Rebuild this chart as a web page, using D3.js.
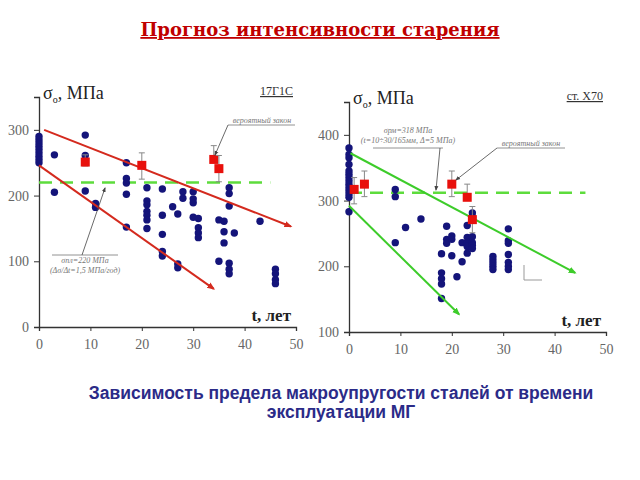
<!DOCTYPE html>
<html>
<head>
<meta charset="utf-8">
<script src="https://cdn.jsdelivr.net/npm/d3@7"></script>
<style>
  body { margin: 0; background: #fff; }
  svg { display: block; }
</style>
</head>
<body>
<div id="chart"></div>
<script>
// ---- data ----
const xTicks = [0, 10, 20, 30, 40, 50];

// 17Г1С (left)
const leftYTicks = [0, 100, 200, 300];
const leftPoints = [
  [0, 250], [0, 255], [0, 260], [0, 265], [0, 270], [0, 275], [0, 280], [0, 285], [0, 290],
  [3, 262], [3, 205],
  [9, 292], [9, 261], [9, 207],
  [11, 188], [11, 182],
  [17, 250], [17, 226], [17, 219], [17, 202], [17, 152],
  [21, 212], [21, 192], [21, 186], [21, 176], [21, 170], [21, 163], [21, 150],
  [24, 210], [24, 170], [24, 141], [24, 115], [24, 108],
  [26, 183],
  [27, 172], [27, 96], [27, 90],
  [28, 206], [28, 196],
  [30, 206], [30, 195], [30, 189], [30, 167],
  [31, 165], [31, 151], [31, 143], [31, 136],
  [35, 163], [35, 100],
  [36, 161], [36, 145], [36, 128],
  [37, 212], [37, 203], [37, 184], [37, 97], [37, 88], [37, 81],
  [38, 143],
  [43, 161],
  [46, 88], [46, 81], [46, 72], [46, 66]
];
// red squares: [t, value, low, high]
const leftMeans = [[9, 251, 245, 262], [20, 246, 225, 265], [34, 255, 255, 276], [35, 241, 221, 261]];
const leftTrends = [[[1, 300], [49, 153]], [[0, 246], [34, 58]]];
const leftLimit = 220;

// ст. Х70 (right)
const rightYTicks = [100, 200, 300, 400];
const rightPoints = [
  [0, 380], [0, 370], [0, 365], [0, 355], [0, 345], [0, 340], [0, 335], [0, 330], [0, 325],
  [0, 320], [0, 315], [0, 310], [0, 305], [0, 283],
  [9, 317], [9, 306], [9, 236],
  [11, 259],
  [14, 272],
  [18, 219], [18, 190], [18, 181], [18, 173], [18, 151],
  [19, 261], [19, 241], [19, 235],
  [20, 246], [20, 241], [20, 216],
  [21, 184],
  [22, 236], [22, 207],
  [23, 262], [23, 244], [23, 236], [23, 230], [23, 220],
  [24, 281], [24, 275], [24, 245], [24, 236], [24, 232], [24, 227],
  [28, 215], [28, 210], [28, 205], [28, 200], [28, 195],
  [31, 257], [31, 239], [31, 235], [31, 218], [31, 206], [31, 200], [31, 195]
];
const rightMeans = [[1, 317, 295, 335], [3, 325, 306, 345], [20, 325, 306, 345], [23, 305, 305, 325], [24, 271, 251, 291]];
const rightTrends = [[[0.3, 372], [44, 190]], [[0, 292], [21.4, 127]]];
const rightLimit = 312;

const SERIF = "'Liberation Serif', 'Times New Roman', 'DejaVu Serif', serif";
const SANS = "'Liberation Sans', Arial, sans-serif";

const W = 640, H = 480;
const svg = d3.select("#chart").append("svg")
    .attr("width", W)
    .attr("height", H);

const defs = svg.append("defs");
function arrowMarker(id, color, size) {
    defs.append("marker")
        .attr("id", id)
        .attr("viewBox", "0 0 10 10")
        .attr("refX", 8).attr("refY", 5)
        .attr("markerUnits", "userSpaceOnUse")
        .attr("markerWidth", size).attr("markerHeight", size)
        .attr("orient", "auto")
        .append("path")
        .attr("d", "M0,1 L10,5 L0,9 z")
        .attr("fill", color);
}
arrowMarker("arr-red", "#d42a1e", 8);
arrowMarker("arr-green", "#3dcc2a", 8);
arrowMarker("arr-gray", "#444", 5);

// title
svg.append("text")
    .attr("x", 320).attr("y", 36)
    .attr("text-anchor", "middle")
    .attr("font-family", "'DejaVu Serif', serif")
    .attr("font-weight", "bold")
    .attr("font-size", 18)
    .attr("fill", "#c00000")
    .attr("text-decoration", "underline")
    .text("Прогноз интенсивности старения");

// caption
const caption = svg.append("text")
    .attr("text-anchor", "middle")
    .attr("font-family", SANS)
    .attr("font-weight", "bold")
    .attr("font-size", 17.5)
    .attr("fill", "#2b2b88");
caption.append("tspan").attr("x", 341).attr("y", 399).text("Зависимость предела макроупругости сталей от времени");
caption.append("tspan").attr("x", 341).attr("y", 418).text("эксплуатации МГ");

function drawPanel(p) {
    const x = d3.scaleLinear().domain([0, 50]).range(p.xRange);
    const y = d3.scaleLinear().domain(p.yDomain).range(p.yRange);
    const g = svg.append("g");

    // axes
    const xAxis = g.append("g")
        .attr("transform", `translate(0,${p.yRange[0]})`)
        .call(d3.axisBottom(x).tickValues(xTicks).tickSize(4).tickPadding(8));
    const yAxis = g.append("g")
        .attr("transform", `translate(${p.xRange[0]},0)`)
        .call(d3.axisLeft(y).tickValues(p.yTicks).tickSize(5).tickPadding(5));
    [xAxis, yAxis].forEach(a => {
        a.select(".domain").attr("stroke", "#333").attr("stroke-width", 1.3);
        a.selectAll(".tick line").attr("stroke", "#333");
        a.selectAll("text")
            .attr("font-family", SERIF)
            .attr("font-size", 14)
            .attr("fill", "#666");
    });

    // labels
    const lab = g.append("text")
        .attr("x", p.xRange[0] + 4).attr("y", p.yRange[1] + 2)
        .attr("font-family", SERIF)
        .attr("font-size", 18)
        .attr("fill", "#222");
    lab.append("tspan").text("σ");
    lab.append("tspan").attr("font-size", 10).attr("dy", 4).text("о");
    lab.append("tspan").attr("dy", -4).text(", МПа");

    g.append("text")
        .attr("x", p.xRange[1] - 3).attr("y", p.yRange[1] - 2)
        .attr("text-anchor", "end")
        .attr("font-family", SERIF)
        .attr("font-size", 12)
        .attr("fill", "#333")
        .attr("text-decoration", "underline")
        .text(p.steel);

    g.append("text")
        .attr("x", p.xRange[1] - 5).attr("y", p.yRange[0] - 6)
        .attr("text-anchor", "end")
        .attr("font-family", SERIF)
        .attr("font-weight", "bold")
        .attr("font-size", 17)
        .attr("fill", "#222")
        .text("t, лет");

    // limit line
    g.append("line")
        .attr("x1", x(0)).attr("x2", x(p.limitEnd))
        .attr("y1", y(p.limit)).attr("y2", y(p.limit))
        .attr("stroke", "#5ddc3c")
        .attr("stroke-width", 2.5)
        .attr("stroke-dasharray", "13,8");

    // points
    g.append("g")
        .selectAll("circle")
        .data(p.points)
        .join("circle")
        .attr("cx", d => x(d[0]))
        .attr("cy", d => y(d[1]))
        .attr("r", 3.7)
        .attr("fill", "#14147a");

    // trend lines
    g.append("g")
        .selectAll("line")
        .data(p.trends)
        .join("line")
        .attr("x1", d => x(d[0][0])).attr("y1", d => y(d[0][1]))
        .attr("x2", d => x(d[1][0])).attr("y2", d => y(d[1][1]))
        .attr("stroke", p.trendColor)
        .attr("stroke-width", 2)
        .attr("marker-end", `url(#${p.marker})`);

    // error bars + means
    const m = g.append("g").selectAll("g").data(p.means).join("g");
    m.append("line")
        .attr("x1", d => x(d[0])).attr("x2", d => x(d[0]))
        .attr("y1", d => y(d[2])).attr("y2", d => y(d[3]))
        .attr("stroke", "#888").attr("stroke-width", 1);
    m.append("line")
        .attr("x1", d => x(d[0]) - 3).attr("x2", d => x(d[0]) + 3)
        .attr("y1", d => y(d[3])).attr("y2", d => y(d[3]))
        .attr("stroke", "#888").attr("stroke-width", 1);
    m.append("line")
        .attr("x1", d => x(d[0]) - 3).attr("x2", d => x(d[0]) + 3)
        .attr("y1", d => y(d[2])).attr("y2", d => y(d[2]))
        .attr("stroke", "#888").attr("stroke-width", 1);
    m.append("rect")
        .attr("x", d => x(d[0]) - 4.5).attr("y", d => y(d[1]) - 4.5)
        .attr("width", 9).attr("height", 9)
        .attr("fill", "#e8100c");

    return { g, x, y };
}

function note(g, lines, tx, ty, ux1, ux2, uy, ax, ay, anchor) {
    const t = g.append("text")
        .attr("font-family", SERIF)
        .attr("font-style", "italic")
        .attr("font-size", 8)
        .attr("fill", "#777")
        .attr("text-anchor", "middle");
    lines.forEach((s, i) => t.append("tspan").attr("x", tx).attr("y", ty + i * 10).text(s));
    g.append("line")
        .attr("x1", ux1).attr("x2", ux2).attr("y1", uy).attr("y2", uy)
        .attr("stroke", "#777").attr("stroke-width", 0.8);
    g.append("line")
        .attr("x1", anchor).attr("y1", uy).attr("x2", ax).attr("y2", ay)
        .attr("stroke", "#444").attr("stroke-width", 0.8)
        .attr("marker-end", "url(#arr-gray)");
}

const L = drawPanel({
    xRange: [39, 296], yDomain: [0, 350], yRange: [327, 97],
    yTicks: leftYTicks, points: leftPoints, means: leftMeans, trends: leftTrends,
    limit: leftLimit, limitEnd: 45, trendColor: "#d42a1e", marker: "arr-red",
    steel: "17Г1С"
});
note(L.g, ["вероятный закон"], 262, 123, 228, 295, 125, 215, 155, 228);
note(L.g, ["σпл=220 МПа", "(Δσ/Δt=1,5 МПа/год)"], 85, 263, 52, 118, 255, 105, 188, 82);

const R = drawPanel({
    xRange: [349, 606], yDomain: [100, 450], yRange: [332, 102],
    yTicks: rightYTicks, points: rightPoints, means: rightMeans, trends: rightTrends,
    limit: rightLimit, limitEnd: 46, trendColor: "#3dcc2a", marker: "arr-green",
    steel: "ст. Х70"
});
note(R.g, ["σрм=318 МПа", "(t=10÷30/165мм, Δ=5 МПа)"], 408, 133, 373, 443, 148, 436, 190, 440);
note(R.g, ["вероятный закон"], 531, 146, 497, 565, 148, 456, 180, 497);

// small corner mark
R.g.append("path")
    .attr("d", "M524,265 L524,280 L542,280")
    .attr("fill", "none")
    .attr("stroke", "#999")
    .attr("stroke-width", 1);
</script>
</body>
</html>
